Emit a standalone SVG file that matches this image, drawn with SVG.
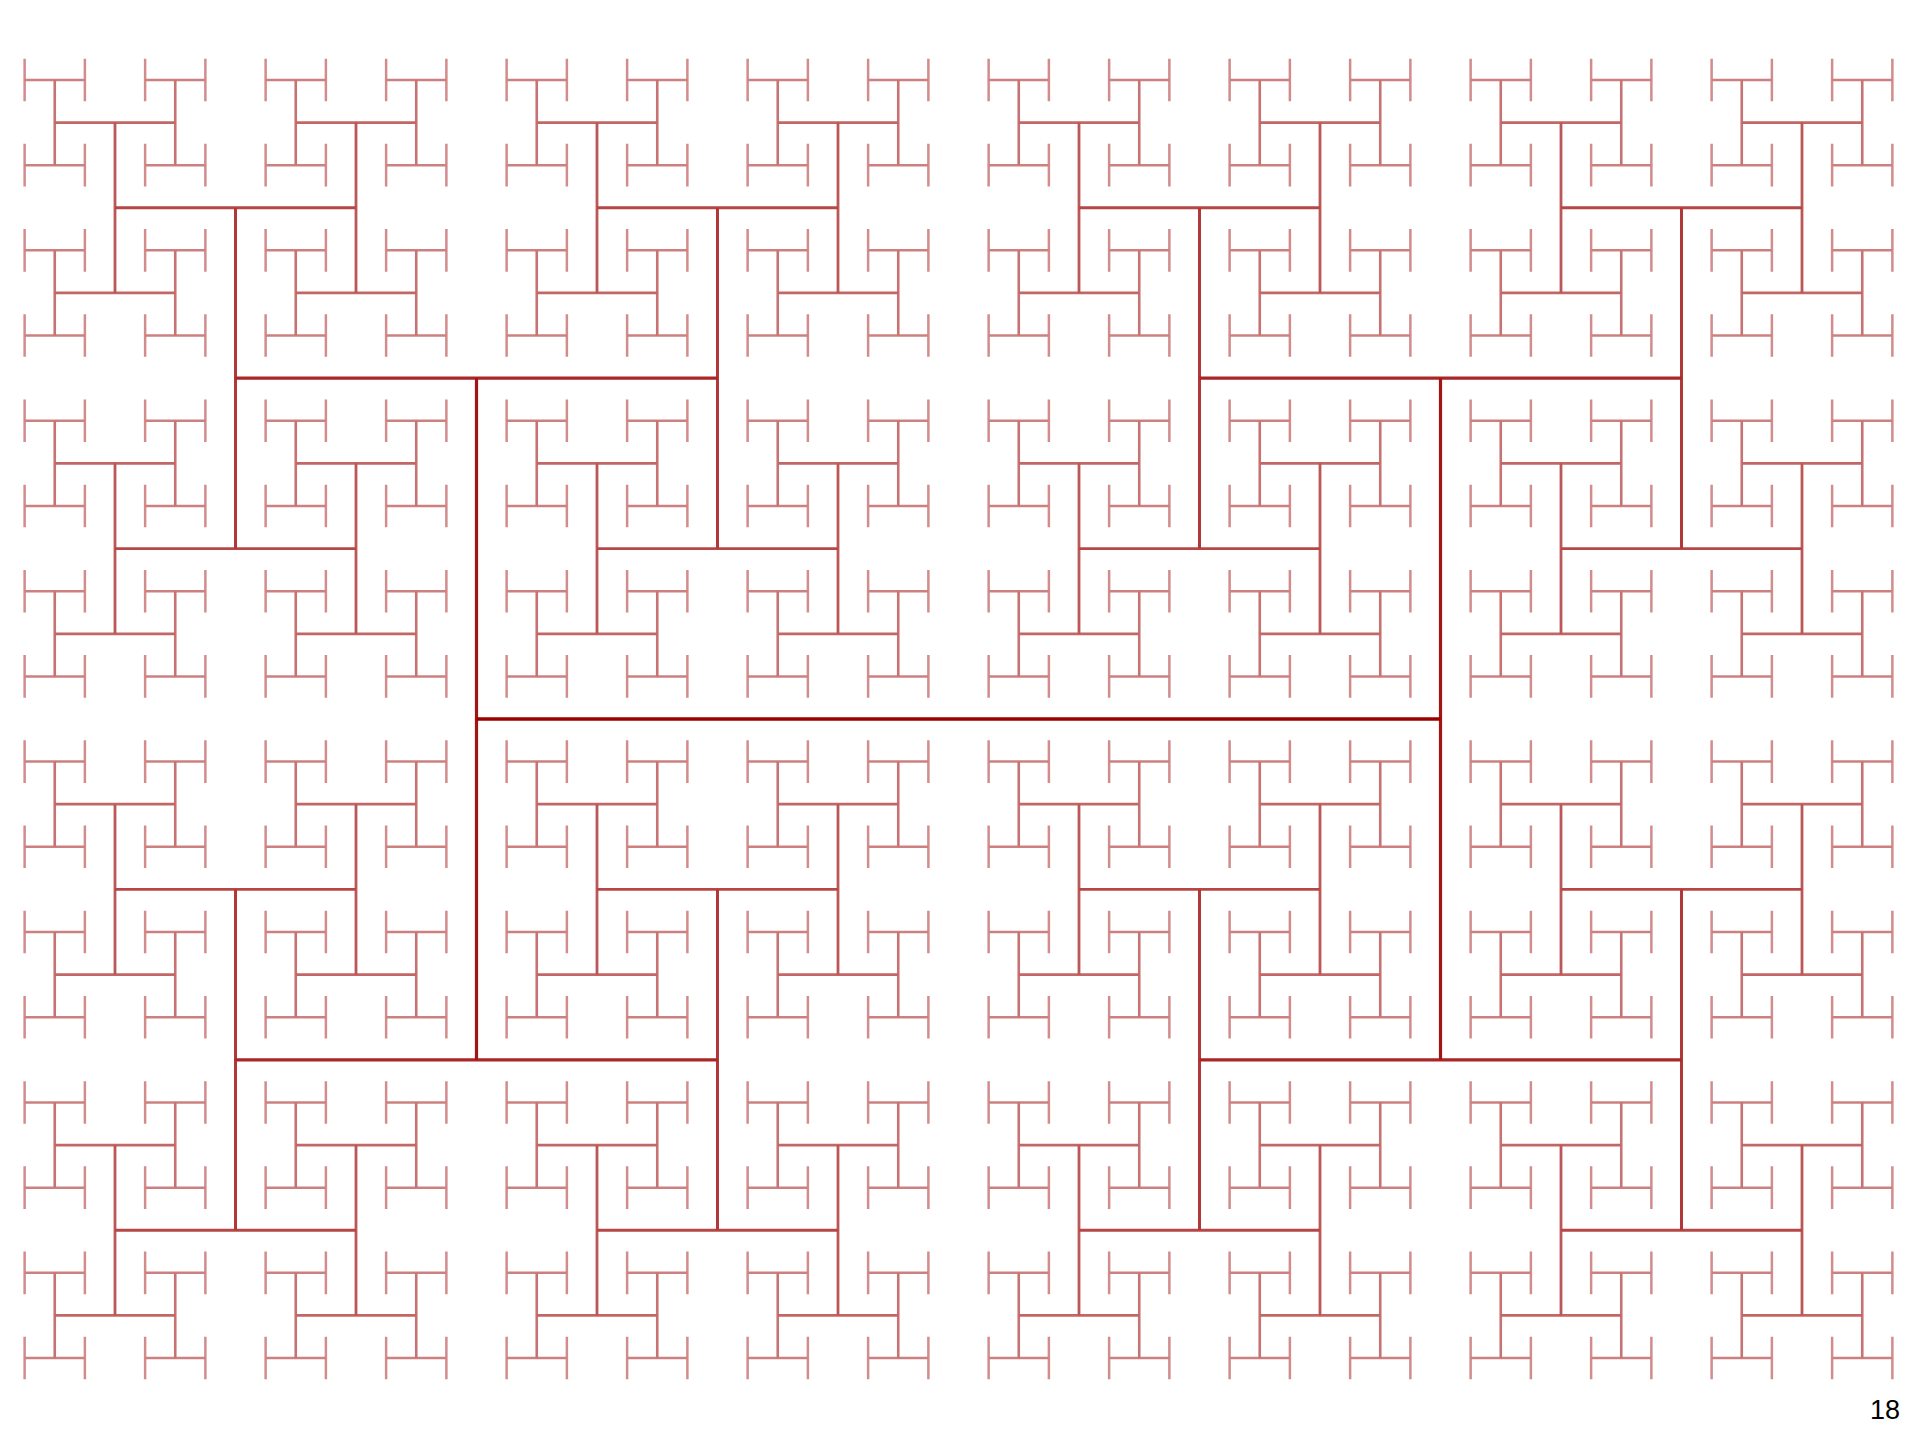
<svg xmlns="http://www.w3.org/2000/svg" xmlns:xlink="http://www.w3.org/1999/xlink" width="1920" height="1440" viewBox="0 0 1920 1440">
<style>
path{fill:none;stroke-linecap:butt}
.l0{stroke:#9b0000;stroke-width:3.4}
.l1{stroke:#a31414;stroke-width:3.2}
.l2{stroke:#aa2626;stroke-width:3.1}
.l3{stroke:#b13838;stroke-width:3}
.l4{stroke:#b74747;stroke-width:2.9}
.l5{stroke:#bd5757;stroke-width:2.8}
.l6{stroke:#c36666;stroke-width:2.7}
.l7{stroke:#c87373;stroke-width:2.6}
.l8{stroke:#cd8080;stroke-width:2.5}
.l9{stroke:#d28c8c;stroke-width:2.5}
.num{font-family:"Liberation Sans",Arial,sans-serif;font-size:27px;fill:#000}
</style>
<defs>
<g id="g4">
<path class="l9" d="M-30.125,-21.3V21.3M30.125,-21.3V21.3"/>
<path class="l8" d="M-30.125,0H30.125"/>
</g>
<g id="g3">
<use xlink:href="#g4" href="#g4" x="-60.25" y="-42.6"/>
<use xlink:href="#g4" href="#g4" x="-60.25" y="42.6"/>
<use xlink:href="#g4" href="#g4" x="60.25" y="-42.6"/>
<use xlink:href="#g4" href="#g4" x="60.25" y="42.6"/>
<path class="l7" d="M-60.25,-42.6V42.6M60.25,-42.6V42.6"/>
<path class="l6" d="M-60.25,0H60.25"/>
</g>
<g id="g2">
<use xlink:href="#g3" href="#g3" x="-120.5" y="-85.21"/>
<use xlink:href="#g3" href="#g3" x="-120.5" y="85.21"/>
<use xlink:href="#g3" href="#g3" x="120.5" y="-85.21"/>
<use xlink:href="#g3" href="#g3" x="120.5" y="85.21"/>
<path class="l5" d="M-120.5,-85.21V85.21M120.5,-85.21V85.21"/>
<path class="l4" d="M-120.5,0H120.5"/>
</g>
<g id="g1">
<use xlink:href="#g2" href="#g2" x="-241" y="-170.41"/>
<use xlink:href="#g2" href="#g2" x="-241" y="170.41"/>
<use xlink:href="#g2" href="#g2" x="241" y="-170.41"/>
<use xlink:href="#g2" href="#g2" x="241" y="170.41"/>
<path class="l3" d="M-241,-170.41V170.41M241,-170.41V170.41"/>
<path class="l2" d="M-241,0H241"/>
</g>
</defs>
<g id="htree" transform="translate(958.5,719)">
<use xlink:href="#g1" href="#g1" x="-482" y="-340.83"/>
<use xlink:href="#g1" href="#g1" x="-482" y="340.83"/>
<use xlink:href="#g1" href="#g1" x="482" y="-340.83"/>
<use xlink:href="#g1" href="#g1" x="482" y="340.83"/>
<path class="l1" d="M-482,-340.83V340.83M482,-340.83V340.83"/>
<path class="l0" d="M-482,0H482"/>
</g>
<text id="page-number" class="num" x="1900" y="1419" text-anchor="end">18</text>
</svg>
